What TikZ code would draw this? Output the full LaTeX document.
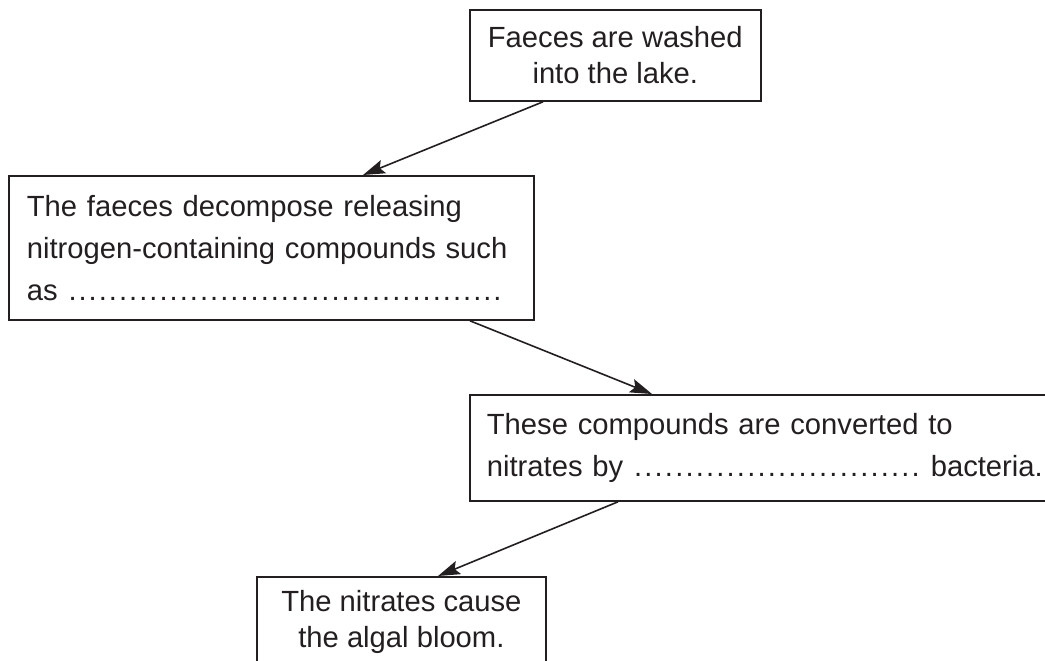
\documentclass[tikz,border=0pt]{standalone}
\usepackage{fontspec}
\setmainfont{Liberation Sans}
\usetikzlibrary{arrows.meta}
\definecolor{inkColor}{HTML}{231F20}
\newcommand{\answerdots}[1]{\hbox to #1{\xleaders\hbox to 5pt{\hss.\hss}\hfill}}

\begin{document}
\begin{tikzpicture}[x=0.5pt, y=-0.5pt, >={Stealth[length=11pt,width=7pt,inset=2pt]}, every node/.style={font=\fontsize{14.6}{18}\selectfont, text=inkColor}]
	\tikzset{
		caixa/.style={draw=inkColor, line width=0.9pt, inner xsep=9pt, inner ysep=0pt, anchor=north west},
		caixaLarga/.style={caixa, align=left, font=\fontsize{14.6}{21}\selectfont},
		seta/.style={->, draw=inkColor, line width=0.8pt}
	}
	\useasboundingbox (0,0) rectangle (1045,660);
	\clip (0,0) rectangle (1045,660);
	\node[caixa, align=center, minimum width=145pt, minimum height=45.5pt] (faeces) at (469,9) {Faeces are washed\\into the lake.};
	\node[caixaLarga, text width=244.5pt, minimum height=72pt] (decompose) at (8,175) {The faeces decompose releasing\\nitrogen-containing compounds such\\as \answerdots{217.5pt}};
	\node[caixaLarga, inner xsep=8.5pt, text width=280pt, minimum height=53pt] (nitrify) at (469,394) {These compounds are converted to\\nitrates by \answerdots{144pt} bacteria.};
	\node[caixa, align=center, minimum width=144.5pt, minimum height=45.5pt] (bloom) at (256,576) {The nitrates cause\\the algal bloom.};
	\draw[seta] ([xshift=37pt]faeces.south west) -- ([xshift=177.5pt]decompose.north west);
	\draw[seta] ([xshift=231pt]decompose.south west) -- ([xshift=91.5pt]nitrify.north west);
	\draw[seta] ([xshift=74.5pt]nitrify.south west) -- ([xshift=91pt]bloom.north west);
\end{tikzpicture}
\end{document}
